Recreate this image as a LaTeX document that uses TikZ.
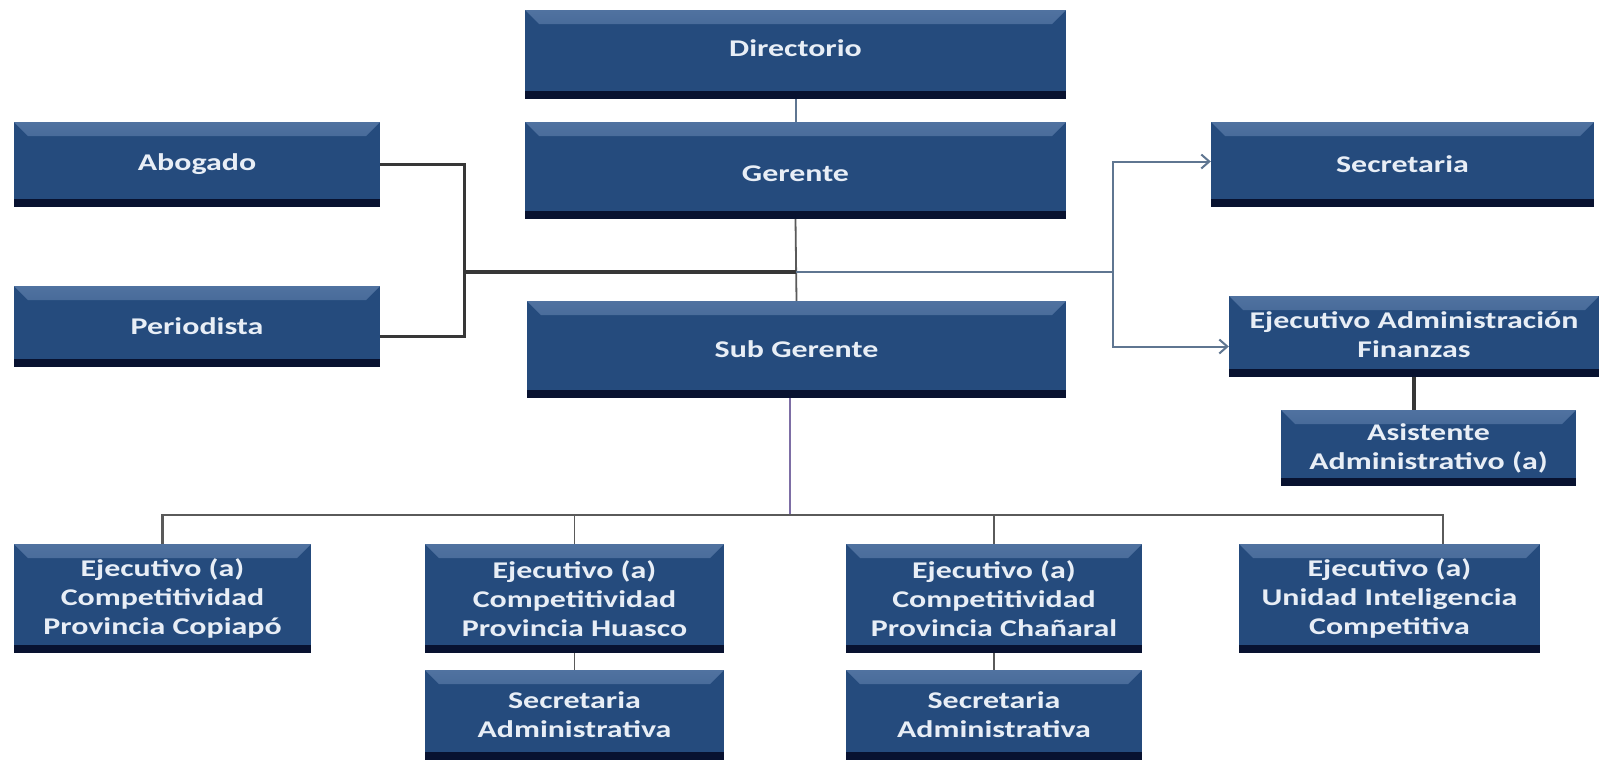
\documentclass[tikz,border=0pt]{standalone}
\usepackage{fontspec}
\newfontfamily\boxfont{Carlito}[FakeStretch=1.33]
\usetikzlibrary{arrows.meta,calc}
\definecolor{boxblue}{RGB}{37,75,125}
\definecolor{bevtop}{RGB}{80,114,160}
\definecolor{boxdark}{RGB}{8,18,48}
\definecolor{boxtext}{RGB}{232,238,246}
\definecolor{dgray}{RGB}{55,55,55}
\definecolor{mgray}{RGB}{90,90,90}
\definecolor{slate}{RGB}{95,118,145}
\definecolor{purp}{RGB}{125,110,165}
\newcommand{\liftup}[2]{\raisebox{#1}[\height][\depth]{#2}}
\tikzset{
  orgbox/.style={rectangle, fill=boxblue, text=boxtext, inner sep=0pt, align=center,
    font=\boxfont\bfseries\fontsize{24}{29}\selectfont,
    path picture={
      \shade[top color=bevtop, bottom color=boxblue]
        (path picture bounding box.north west) -- (path picture bounding box.north east)
        -- ([xshift=-14pt,yshift=-14pt]path picture bounding box.north east)
        -- ([xshift=14pt,yshift=-14pt]path picture bounding box.north west) -- cycle;
      \fill[boxdark] (path picture bounding box.south west) rectangle ([yshift=8pt]path picture bounding box.south east);
    }},
  lconn/.style={draw=dgray, line width=3pt},
  rconn/.style={draw=slate, line width=2pt},
  thinconn/.style={draw=mgray, line width=1.8pt},
  arr/.style={-{Straight Barb[length=8pt,width=14pt,line width=2pt]}}
}
\begin{document}
\begin{tikzpicture}[x=1pt,y=-1pt]
\fill[white] (0,0) rectangle (1599,761);
\useasboundingbox (0,0) rectangle (1599,761);

% top column
\node[orgbox, minimum width=541pt, minimum height=89pt] (dir) at (795.5,54.5) {\liftup{6pt}{Directorio}};
\node[orgbox, minimum width=541pt, minimum height=97pt] (ger) at (795.5,170.5) {\liftup{-3pt}{Gerente}};
\node[orgbox, minimum width=539pt, minimum height=97pt] (sub) at (796.5,349.5) {Sub Gerente};

% left staff
\node[orgbox, minimum width=366pt, minimum height=85pt] (abo) at (197,164.5) {Abogado};
\node[orgbox, minimum width=366pt, minimum height=81pt] (per) at (197,326.5) {Periodista};

% right staff
\node[orgbox, minimum width=383pt, minimum height=85pt] (sec) at (1402.5,164.5) {Secretaria};
\node[orgbox, minimum width=370pt, minimum height=81pt, text depth=3pt] (eaf) at (1414,336.5) {Ejecutivo Administración\\Finanzas};
\node[orgbox, minimum width=295pt, minimum height=76pt] (asi) at (1428.5,448) {Asistente\\Administrativo (a)};

% bottom row
\node[orgbox, minimum width=297pt, minimum height=109pt] (cop) at (162.5,598.5) {Ejecutivo (a)\\Competitividad\\Provincia Copiapó};
\node[orgbox, minimum width=299pt, minimum height=109pt] (hua) at (574.5,598.5) {Ejecutivo (a)\\Competitividad\\Provincia Huasco};
\node[orgbox, minimum width=296pt, minimum height=109pt] (cha) at (994,598.5) {Ejecutivo (a)\\Competitividad\\Provincia Chañaral};
\node[orgbox, minimum width=301pt, minimum height=109pt] (uni) at (1389.5,598.5) {Ejecutivo (a)\\Unidad Inteligencia\\Competitiva};
\node[orgbox, minimum width=299pt, minimum height=90pt] (sah) at (574.5,715) {Secretaria\\Administrativa};
\node[orgbox, minimum width=296pt, minimum height=90pt] (sac) at (994,715) {Secretaria\\Administrativa};

% junctions
\coordinate (lj) at (464,272);
\coordinate (cj) at (795.5,272);
\coordinate (rj) at (1113,272);
\coordinate (bus) at (790,515);

% connectors
\draw[rconn] (dir.south) -- (ger.north);
\draw[thinconn] (ger.south) -- (sub.north);
\draw[lconn, line width=4pt] (cj) -- (lj);
\draw[lconn] (abo.east) -| (lj) |- ([yshift=-10pt]per.east);
\draw[rconn] (cj) -- (rj);
\draw[rconn, arr] (rj) |- ([yshift=3pt]sec.west);
\draw[rconn, arr] (rj) |- ([yshift=-10pt]eaf.west);
\draw[lconn, line width=4pt] (eaf.south) -- (eaf.south |- asi.north);
\draw[draw=purp, line width=2pt] (sub.south -| bus) -- (bus);
\draw[thinconn, line width=2.5pt] (cop.north) |- ([xshift=53.5pt]uni.north |- bus) -- ([xshift=53.5pt]uni.north);
\draw[thinconn] (hua.north) -- (hua.north |- bus);
\draw[thinconn] (cha.north) -- (cha.north |- bus);
\draw[thinconn] (hua.south) -- (sah.north);
\draw[thinconn] (cha.south) -- (sac.north);
\end{tikzpicture}
\end{document}
